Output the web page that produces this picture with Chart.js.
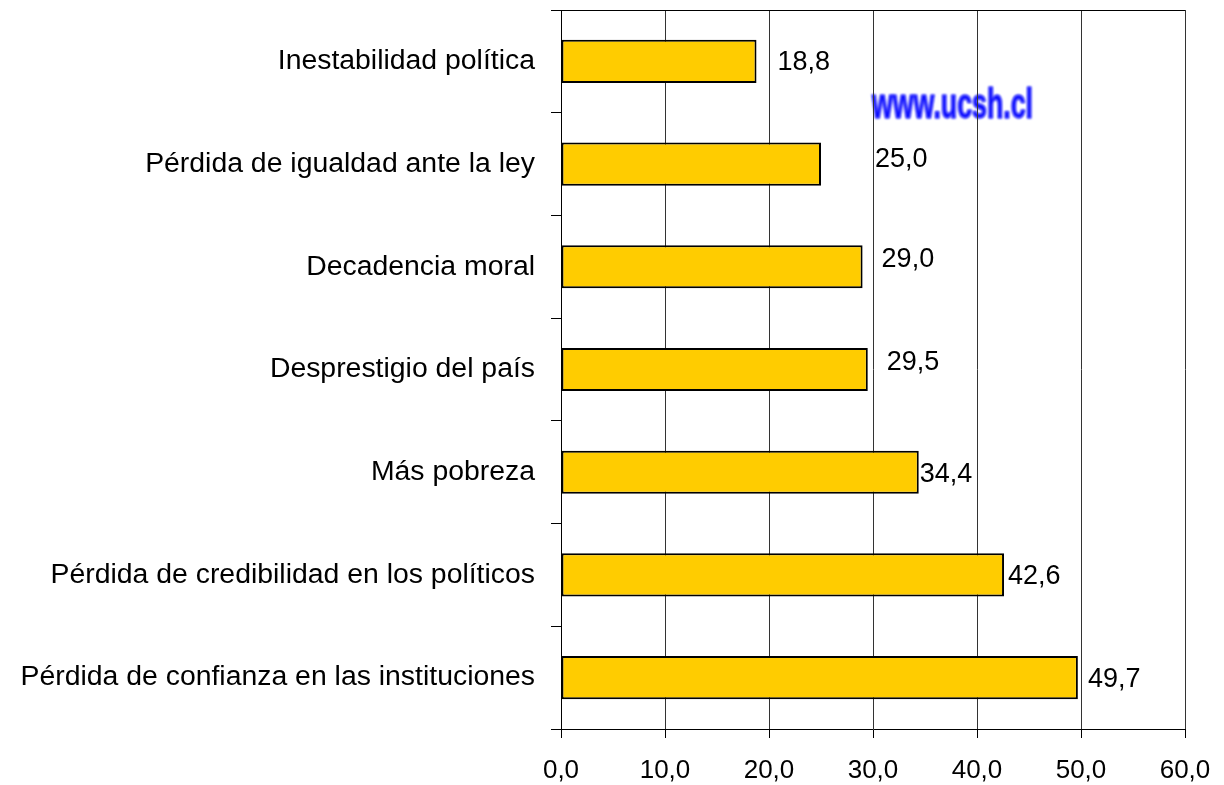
<!DOCTYPE html>
<html>
<head>
<meta charset="utf-8">
<script src="https://cdn.jsdelivr.net/npm/chart.js@4/dist/chart.umd.min.js"></script>
<style>
  html, body { margin: 0; padding: 0; background: #ffffff; }
  #wrap { width: 1224px; height: 785px; position: relative; }
</style>
</head>
<body>
<div id="wrap"><canvas id="c" width="1224" height="785"></canvas></div>
<script>
// ---- data ----
const categories = [
  "Inestabilidad política",
  "Pérdida de igualdad ante la ley",
  "Decadencia moral",
  "Desprestigio del país",
  "Más pobreza",
  "Pérdida de credibilidad en los políticos",
  "Pérdida de confianza en las instituciones"
];
const values = [18.8, 25.0, 29.0, 29.5, 34.4, 42.6, 49.7];
const axisMin = 0;
const axisMax = 60;
const axisStep = 10;
const watermarkText = "www.ucsh.cl";

// ---- style (label nudges as in the original) ----
const labelShiftX = [21, 54, 19, 19, 1, 4, 10];
const labelShiftY = [1, -5, -7, -7, 2, 2, 2];

const fmt = v => Number(v).toFixed(1).replace('.', ',');
const FONT = "'Liberation Sans', Arial, sans-serif";

const topBorder = {
  id: 'topBorder',
  afterDraw(chart) {
    const { ctx, chartArea: a } = chart;
    ctx.save();
    ctx.strokeStyle = '#000';
    ctx.lineWidth = 1;
    ctx.beginPath();
    ctx.moveTo(a.left, Math.round(a.top) + 0.5);
    ctx.lineTo(a.right, Math.round(a.top) + 0.5);
    ctx.stroke();
    ctx.restore();
  }
};

const watermark = {
  id: 'watermark',
  beforeDraw(chart) {
    const { ctx, scales } = chart;
    const x0 = scales.x.getPixelForValue(30) - 1;
    const targetW = 161;
    ctx.save();
    ctx.font = "bold 42px 'Liberation Sans Narrow', 'Liberation Sans', sans-serif";
    const w = ctx.measureText(watermarkText).width;
    ctx.filter = 'blur(0.8px)';
    ctx.fillStyle = '#0a0aff';
    ctx.strokeStyle = '#0a0aff';
    ctx.lineWidth = 1;
    ctx.textBaseline = 'alphabetic';
    ctx.translate(x0, 118);
    ctx.scale(targetW / w, 1);
    ctx.fillText(watermarkText, 0, 0);
    ctx.strokeText(watermarkText, 0, 0);
    ctx.restore();
  }
};

const valueLabels = {
  id: 'valueLabels',
  afterDatasetsDraw(chart) {
    const { ctx } = chart;
    const meta = chart.getDatasetMeta(0);
    ctx.save();
    ctx.font = "27px " + FONT;
    ctx.fillStyle = '#000';
    ctx.textAlign = 'left';
    ctx.textBaseline = 'middle';
    meta.data.forEach((bar, i) => {
      ctx.fillText(fmt(values[i]), bar.x + labelShiftX[i], bar.y + labelShiftY[i]);
    });
    ctx.restore();
  }
};

new Chart(document.getElementById('c'), {
  type: 'bar',
  data: {
    labels: categories,
    datasets: [{
      data: values,
      backgroundColor: '#FFCC00',
      borderColor: '#000000',
      borderWidth: 2,
      borderSkipped: false,
      barPercentage: 0.42,
      categoryPercentage: 1.0
    }]
  },
  options: {
    indexAxis: 'y',
    responsive: false,
    animation: false,
    devicePixelRatio: 1,
    layout: { padding: { top: 10, right: 39, left: 0, bottom: 0 } },
    plugins: {
      legend: { display: false },
      tooltip: { enabled: false },
      title: { display: false }
    },
    scales: {
      x: {
        type: 'linear',
        min: axisMin,
        max: axisMax,
        ticks: {
          stepSize: axisStep,
          callback: v => fmt(v),
          color: '#000',
          font: { family: FONT, size: 26 },
          padding: 17,
          maxRotation: 0
        },
        grid: { color: '#333', lineWidth: 1, tickLength: 9, tickColor: '#000' },
        border: { color: '#000', width: 1 },
        afterFit(s) { s.height = 56; s.paddingLeft = 0; s.paddingRight = 0; }
      },
      y: {
        type: 'category',
        offset: true,
        ticks: {
          color: '#000',
          font: { family: FONT, size: 28.4 },
          padding: 16,
          labelOffset: 0
        },
        grid: { drawOnChartArea: false, offset: true, tickLength: 10, tickColor: '#000' },
        border: { color: '#000', width: 1 },
        afterFit(s) { s.width = 561; s.paddingTop = 0; s.paddingBottom = 0; }
      }
    }
  },
  plugins: [watermark, valueLabels, topBorder]
});
</script>
</body>
</html>
